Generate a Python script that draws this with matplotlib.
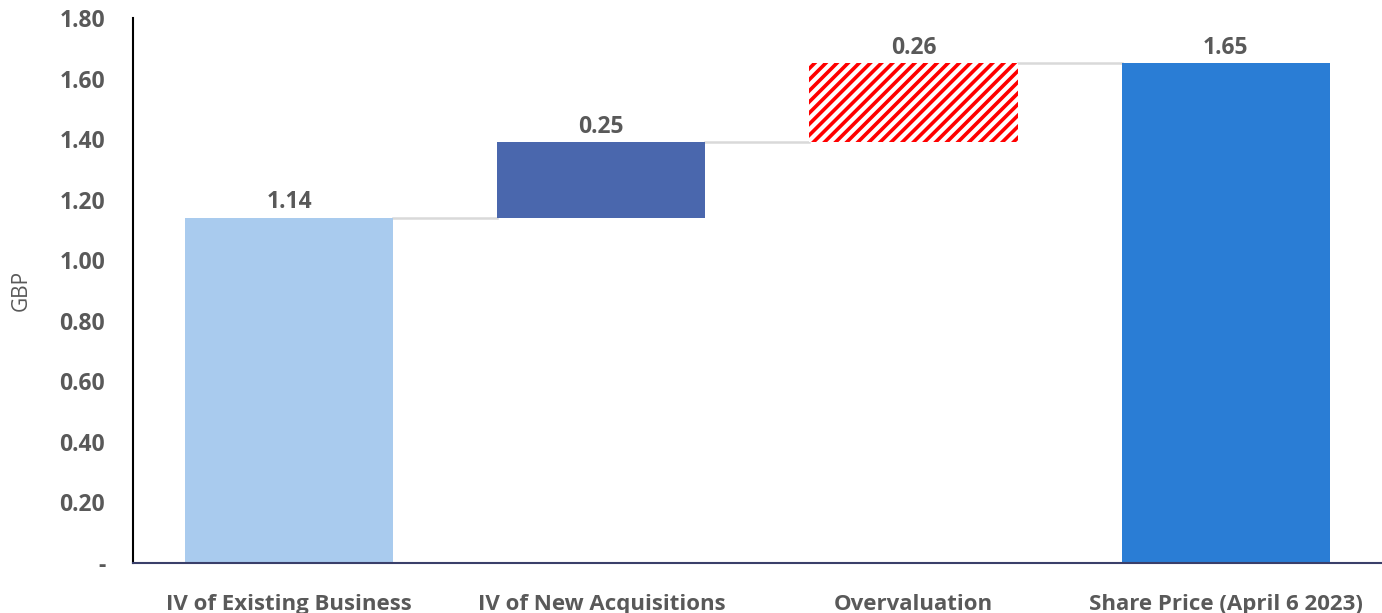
import numpy as np
import matplotlib.pyplot as plt

categories = ['IV of Existing Business', 'IV of New Acquisitions', 'Overvaluation', 'Share Price (April 6 2023)']
values = [1.14, 0.25, 0.26, 1.65]
label_text = ['1.14', '0.25', '0.26', '1.65']
yticks = [0, 0.2, 0.4, 0.6, 0.8, 1.0, 1.2, 1.4, 1.6, 1.8]

plt.rcParams['font.family'] = ['Open Sans', 'DejaVu Sans']
plt.rcParams['hatch.linewidth'] = 2.6
plt.rcParams['hatch.color'] = '#ff0000'

gray = '#595959'
fig = plt.figure(figsize=(13.82, 6.13), dpi=100)
ax = fig.add_axes([0.0962, 0.0816, 0.9038, 0.889])

x = np.arange(len(categories))
w = 0.667
bottoms = [0, values[0], values[0] + values[1], 0]
tops = [b + v for b, v in zip(bottoms, values)]

ax.bar(x[0], values[0], w, bottom=bottoms[0], color='#a9cbee')
ax.bar(x[1], values[1], w, bottom=bottoms[1], color='#4a67ad')
ax.bar(x[2], values[2], w, bottom=bottoms[2], color='white', hatch='///', edgecolor='#ff0000', linewidth=0)
ax.bar(x[3], values[3], w, bottom=bottoms[3], color='#2a7dd5')

# connector lines
for i in range(3):
    ax.plot([x[i] + w / 2, x[i + 1] - w / 2], [tops[i], tops[i]], color='#d9d9d9', lw=1.8, zorder=0)

for i in range(4):
    ax.text(x[i], tops[i] + 0.012, label_text[i], ha='center', va='bottom',
            fontsize=16.5, fontweight='bold', color=gray)

ax.set_xlim(-0.5, 3.5)
ax.set_ylim(0, 1.8)
ax.set_yticks(yticks)
ax.set_yticklabels(['-'] + ['%.2f' % t for t in yticks[1:]])
ax.set_xticks(x)
ax.set_xticklabels(categories)
ax.tick_params(axis='x', length=0, labelsize=16, labelcolor=gray, pad=22)
ax.tick_params(axis='y', length=0, labelsize=16.5, labelcolor=gray, pad=20)
for lab in ax.get_xticklabels() + ax.get_yticklabels():
    lab.set_fontweight('bold')
ax.set_ylabel('GBP', fontsize=15, color=gray, labelpad=20)

ax.spines['top'].set_visible(False)
ax.spines['right'].set_visible(False)
ax.spines['left'].set_color('black')
ax.spines['left'].set_linewidth(1.5)
ax.spines['bottom'].set_color('#3a3f6a')
ax.spines['bottom'].set_linewidth(1.5)

fig.savefig('out.png', dpi=100)
